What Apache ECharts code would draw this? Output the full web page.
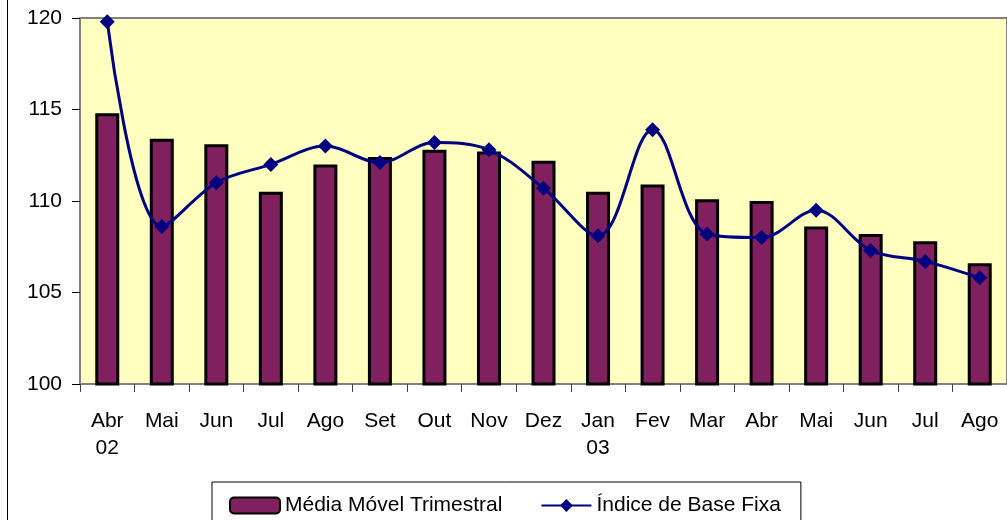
<!DOCTYPE html>
<html>
<head>
<meta charset="utf-8">
<script src="https://cdn.jsdelivr.net/npm/echarts@6/dist/echarts.min.js"></script>
<style>html,body{margin:0;padding:0;background:#fff}#c{width:1007px;height:520px}</style>
</head>
<body>
<div id="c"></div>
<script>
const categories = ['Abr\n02','Mai','Jun','Jul','Ago','Set','Out','Nov','Dez','Jan\n03','Fev','Mar','Abr','Mai','Jun','Jul','Ago'];
const mediaMovel = [114.8,113.4,113.1,110.5,112.0,112.4,112.8,112.7,112.2,110.5,110.9,110.1,110.0,108.6,108.2,107.8,106.6];
const indiceBase = [119.8,108.6,111.0,112.0,113.0,112.1,113.2,112.8,110.7,108.1,113.9,108.2,108.0,109.5,107.3,106.7,105.8];
const yTicks = [100,105,110,115,120];

const chart = echarts.init(document.getElementById('c'), null, {renderer:'canvas'});
const font = 'Liberation Sans, Arial, sans-serif';
chart.setOption({
  animation:false,
  backgroundColor:'#ffffff',
  graphic:[{type:'rect',shape:{x:7.5,y:-5,width:1010,height:540},style:{fill:'none',stroke:'#000',lineWidth:1},z:-1}],
  grid:{left:80,top:18,right:0,bottom:136,show:true,backgroundColor:'#FFFFC0',borderColor:'#808080',borderWidth:2},
  legend:{
    left:212,top:482,
    padding:[13,20,12,17],
    borderColor:'#000',borderWidth:1,backgroundColor:'#fff',
    itemGap:38,itemWidth:50,itemHeight:16,
    textStyle:{fontFamily:font,fontSize:21,color:'#000'},
    data:[{name:'Média Móvel Trimestral'},{name:'Índice de Base Fixa'}]
  },
  xAxis:{
    type:'category',data:categories,boundaryGap:true,
    axisLine:{lineStyle:{color:'#808080',width:2}},
    axisTick:{show:true,length:8,lineStyle:{color:'#404040',width:1}},
    axisLabel:{fontFamily:font,fontSize:21,color:'#000',margin:24,lineHeight:27,interval:0}
  },
  yAxis:{
    type:'value',min:100,max:120,interval:5,
    splitLine:{show:false},
    axisLine:{show:true,lineStyle:{color:'#808080',width:2}},
    axisTick:{show:true,length:8,inside:false,lineStyle:{color:'#000'}},
    axisLabel:{fontFamily:font,fontSize:21,color:'#000',margin:18}
  },
  series:[
    {name:'Média Móvel Trimestral',type:'bar',data:mediaMovel,barWidth:24,
     itemStyle:{color:'#80205F',borderColor:'#000',borderWidth:3}},
    {name:'Índice de Base Fixa',type:'line',data:indiceBase,smooth:0.35,
     symbol:'diamond',symbolSize:15,
     lineStyle:{color:'#000080',width:3},
     itemStyle:{color:'#000080'}}
  ]
});
</script>
</body>
</html>
